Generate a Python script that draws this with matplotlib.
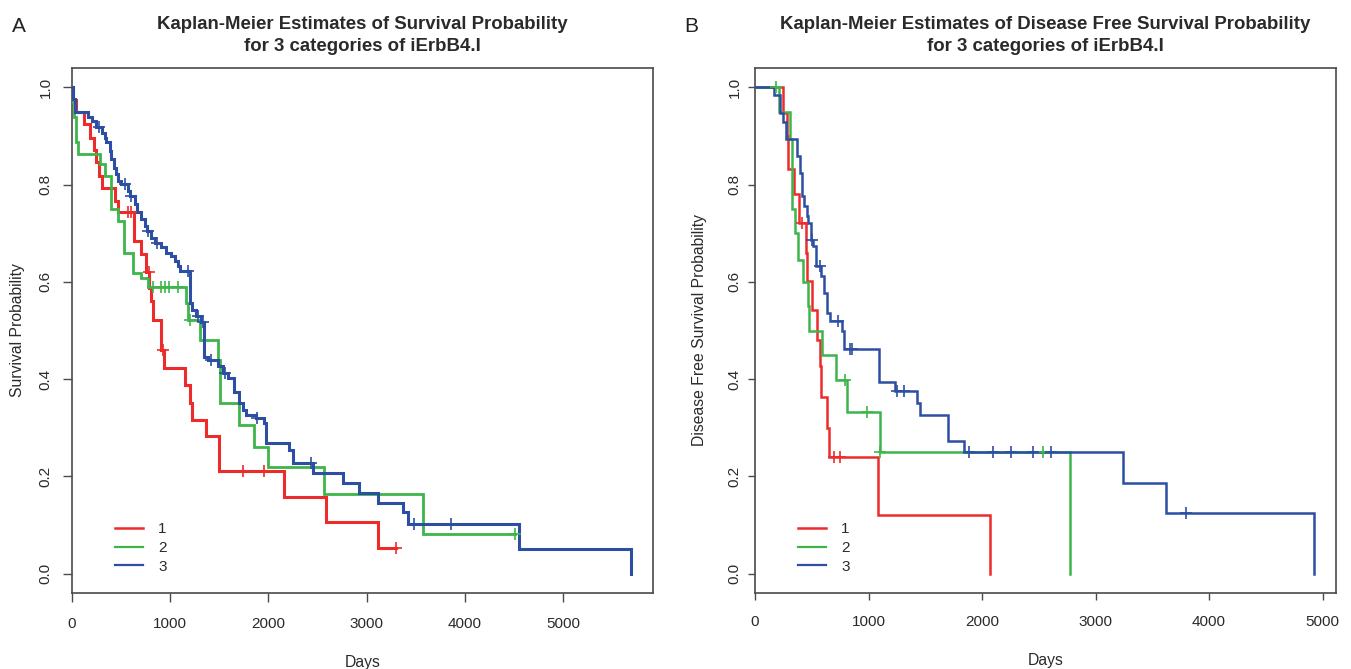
import numpy as np
import matplotlib
matplotlib.use("Agg")
import matplotlib.pyplot as plt

plt.rcParams['font.family'] = ['Liberation Sans', 'DejaVu Sans']

# ---------------- Panel A: overall survival ----------------
a_red_t = [0, 15, 40, 119, 180, 224, 247, 275, 305, 434, 468, 627, 698, 749, 783, 807, 824,
           905, 932, 1146, 1204, 1224, 1366, 1502, 2163, 2587, 3113]
a_red_s = [1.0, 0.975, 0.95, 0.925, 0.897, 0.872, 0.846, 0.818, 0.794, 0.767, 0.743, 0.684, 0.657,
           0.621, 0.588, 0.561, 0.522, 0.46, 0.422, 0.388, 0.35, 0.316, 0.282, 0.212, 0.158, 0.106, 0.052]
a_red_end = 3299
a_red_cens = [570, 604, 780, 925, 1739, 1960, 3299]

a_green_t = [0, 10, 17, 37, 61, 288, 332, 400, 468, 525, 620, 705, 773, 1165, 1180, 1299, 1485,
             1510, 1698, 1858, 1993, 2570, 3570]
a_green_s = [1.0, 0.97, 0.94, 0.887, 0.863, 0.842, 0.818, 0.75, 0.726, 0.66, 0.619, 0.607, 0.59,
             0.556, 0.522, 0.481, 0.44, 0.35, 0.306, 0.261, 0.22, 0.163, 0.081]
a_green_end = 4507
a_green_cens = [824, 908, 952, 993, 1078, 1204, 4507]

a_blue_t = [0, 10, 27, 163, 203, 241, 308, 332, 349, 383, 400, 427, 451, 468, 502, 570, 586, 637,
            661, 705, 739, 763, 807, 841, 909, 959, 1010, 1044, 1078, 1102, 1197, 1224, 1265, 1315,
            1349, 1383, 1485, 1536, 1587, 1654, 1705, 1739, 1773, 1875, 1960, 1977, 2214, 2248,
            2452, 2757, 2926, 3113, 3367, 3418, 4550, 5690]
a_blue_s = [1.0, 0.976, 0.949, 0.94, 0.931, 0.918, 0.907, 0.897, 0.887, 0.87, 0.853, 0.835, 0.822,
            0.808, 0.801, 0.787, 0.777, 0.76, 0.743, 0.729, 0.715, 0.705, 0.691, 0.681, 0.671, 0.66,
            0.654, 0.643, 0.633, 0.623, 0.556, 0.542, 0.529, 0.518, 0.446, 0.44, 0.426, 0.412, 0.402,
            0.374, 0.35, 0.337, 0.326, 0.319, 0.309, 0.269, 0.254, 0.228, 0.206, 0.187, 0.165, 0.146,
            0.127, 0.102, 0.05, 0.0]
a_blue_end = 5690
a_blue_cens = [275, 536, 603, 773, 864, 1180, 1282, 1332, 1417, 1563, 1882, 2434, 3486, 3858]

# ---------------- Panel B: disease free survival ----------------
b_red_t = [0, 250, 285, 294, 344, 391, 447, 456, 506, 544, 574, 582, 632, 653, 1083, 2074]
b_red_s = [1.0, 0.948, 0.90, 0.832, 0.78, 0.722, 0.66, 0.601, 0.543, 0.481, 0.426, 0.364, 0.30,
           0.24, 0.12, 0.0]
b_red_end = 2074
b_red_cens = [417, 700, 750]

b_green_t = [0, 215, 309, 323, 353, 382, 425, 471, 479, 588, 712, 809, 1103, 2771]
b_green_s = [1.0, 0.95, 0.893, 0.75, 0.701, 0.646, 0.6, 0.55, 0.50, 0.45, 0.399, 0.332, 0.25, 0.0]
b_green_end = 2771
b_green_cens = [182, 794, 985, 1103, 2536]

b_blue_t = [0, 170, 220, 250, 270, 373, 397, 412, 435, 456, 470, 490, 515, 540, 580, 605, 632,
            662, 765, 780, 1090, 1235, 1427, 1456, 1700, 1839, 3242, 3619, 4922]
b_blue_s = [1.0, 0.985, 0.948, 0.928, 0.893, 0.859, 0.825, 0.777, 0.756, 0.735, 0.722, 0.687,
            0.674, 0.632, 0.612, 0.577, 0.536, 0.519, 0.498, 0.462, 0.395, 0.375, 0.35, 0.327,
            0.273, 0.25, 0.187, 0.125, 0.0]
b_blue_end = 4922
b_blue_cens = [500, 573, 735, 838, 859, 1250, 1309, 1883, 2098, 2256, 2451, 2604, 3801]

groups = ['1', '2', '3']
x_ticks = [0, 1000, 2000, 3000, 4000, 5000]
y_ticks = [0.0, 0.2, 0.4, 0.6, 0.8, 1.0]

RED, GREEN, BLUE = '#EE2B2B', '#3DB54A', '#2C4FA3'
SPINE = '#4a4a4a'
TXT = '#2a2a2a'

W, H = 1351, 669
fig = plt.figure(figsize=(W / 100, H / 100), dpi=100)


def px_axes(l, r, t, b):
    return fig.add_axes([l / W, (H - b) / H, (r - l) / W, (b - t) / H])


def km(ax, times, surv, end, cens, color, lw):
    t = list(times) + [end]
    s = list(surv) + [surv[-1]]
    ax.step(t, s, where='post', color=color, lw=lw, solid_joinstyle='miter', zorder=3)
    tt = np.array(times)
    idx = np.searchsorted(tt, np.array(cens), side='right') - 1
    cy = np.array(surv)[idx]
    ax.plot(cens, cy, ls='none', marker='+', ms=8, mew=1.2, color=color, zorder=4)


def style(ax, xmax, title, ylabel, ticklen, ypad, ylabelpad):
    ax.set_xlim(0, xmax * 1.04)
    ax.set_ylim(-0.04, 1.04)
    ax.set_xticks(x_ticks)
    ax.set_xticklabels([str(v) for v in x_ticks])
    ax.set_yticks(y_ticks)
    ax.set_yticklabels([f'{v:.1f}' for v in y_ticks], rotation=90, va='center')
    for sp in ax.spines.values():
        sp.set_color(SPINE)
        sp.set_linewidth(1.2)
    ax.tick_params(direction='out', length=ticklen, width=1.0, color=SPINE, labelsize=11,
                   labelcolor=TXT)
    ax.tick_params(axis='x', pad=11)
    ax.tick_params(axis='y', pad=ypad)
    ax.set_xlabel('Days', fontsize=11.3, color=TXT, labelpad=17)
    ax.set_ylabel(ylabel, fontsize=11.3, color=TXT, labelpad=ylabelpad)
    ax.set_title(title, fontsize=13.4, fontweight='bold', color=TXT, pad=12, linespacing=1.4)


def legend(ax, lw_list):
    handles = [plt.Line2D([0], [0], color=c, lw=lw) for c, lw in zip([RED, GREEN, BLUE], lw_list)]
    ax.legend(handles, groups, loc='lower left', bbox_to_anchor=(0.051, 0.0105), frameon=False,
              fontsize=11, handlelength=1.8, handletextpad=1.0, labelspacing=0.32,
              labelcolor=TXT)


# Panel A
axA = px_axes(72, 653, 68, 593)
km(axA, a_red_t, a_red_s, a_red_end, a_red_cens, RED, 2.2)
km(axA, a_green_t, a_green_s, a_green_end, a_green_cens, GREEN, 2.0)
km(axA, a_blue_t, a_blue_s, a_blue_end, a_blue_cens, BLUE, 2.2)
style(axA, 5690, 'Kaplan-Meier Estimates of Survival Probability\nfor 3 categories of iErbB4.I',
      'Survival Probability', 6.5, 7.5, 10)
legend(axA, [1.8, 1.6, 1.6])

# Panel B
axB = px_axes(755, 1336, 68, 593)
km(axB, b_red_t, b_red_s, b_red_end, b_red_cens, RED, 1.8)
km(axB, b_green_t, b_green_s, b_green_end, b_green_cens, GREEN, 1.8)
km(axB, b_blue_t, b_blue_s, b_blue_end, b_blue_cens, BLUE, 1.8)
style(axB, 4922,
      'Kaplan-Meier Estimates of Disease Free Survival Probability\nfor 3 categories of iErbB4.I',
      'Disease Free Survival Probability', 5.2, 4.5, 15)
legend(axB, [1.8, 1.6, 1.6])

fig.text(12 / W, 1 - 26 / H, 'A', fontsize=15, color='#222222', va='center', ha='left')
fig.text(684 / W, 1 - 26 / H, 'B', fontsize=15, color='#222222', va='center', ha='left')

fig.savefig('out.png', dpi=100, facecolor='white')
